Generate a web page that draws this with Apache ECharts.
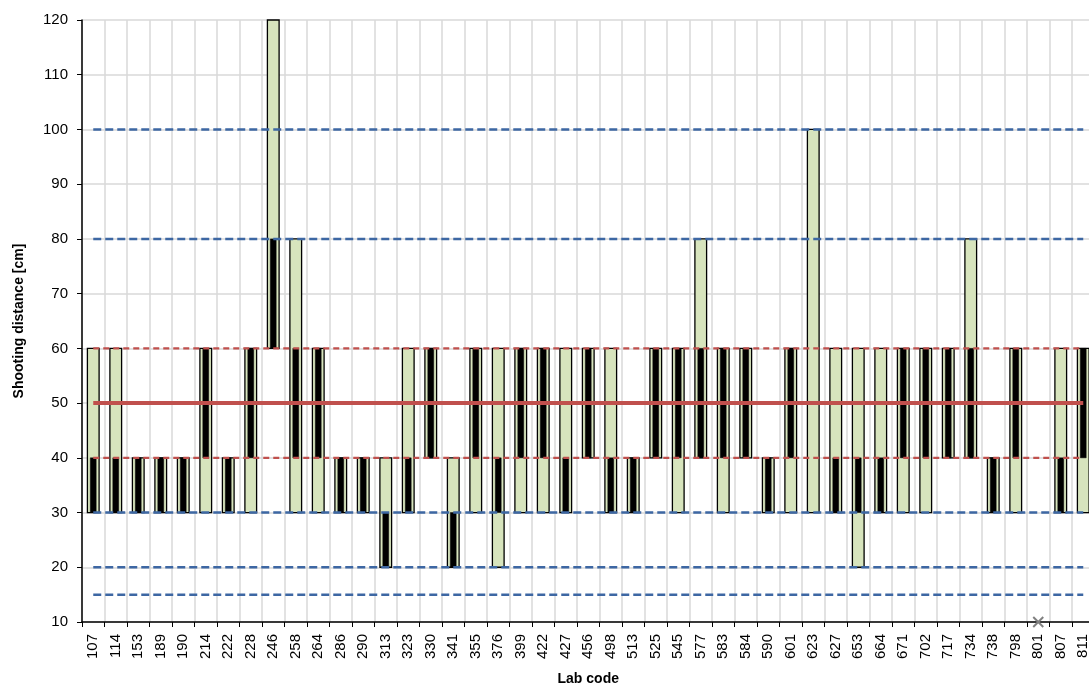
<!DOCTYPE html>
<html>
<head>
<meta charset="utf-8">
<script src="https://cdn.jsdelivr.net/npm/echarts@6/dist/echarts.min.js"></script>
<style>
html,body{margin:0;padding:0;background:#fff;overflow:hidden;}
#chart{width:1089px;height:690px;}
</style>
</head>
<body>
<div id="chart"></div>
<script>
const categories = ['107','114','153','189','190','214','222','228','246','258','264','286','290','313','323','330','341','355','376','399','422','427','456','498','513','525','545','577','583','584','590','601','623','627','653','664','671','702','717','734','738','798','801','807','811'];
const greenLow  = [30,30,30,30,30,30,30,30,60,30,30,30,30,20,30,40,20,30,20,30,30,30,40,30,30,40,30,40,30,40,30,30,30,30,20,30,30,30,40,40,30,30,null,30,30];
const greenHigh = [60,60,40,40,40,60,40,60,120,80,60,40,40,40,60,60,40,60,60,60,60,60,60,60,40,60,60,80,60,60,40,60,100,60,60,60,60,60,60,80,40,60,null,60,60];
const blackLow  = [30,30,30,30,30,40,30,40,60,40,40,30,30,20,30,40,20,40,30,40,40,30,40,30,30,40,40,40,40,40,30,40,null,30,30,30,40,40,40,40,30,40,null,30,40];
const blackHigh = [40,40,40,40,40,60,40,60,80,60,60,40,40,30,40,60,30,60,40,60,60,40,60,40,40,60,60,60,60,60,40,60,null,40,40,40,60,60,60,60,40,60,null,40,60];
const crossLab = '801';
const crossValue = 10;
const blueLevels = [15, 20, 30, 80, 100];
const redDashLevels = [40, 60];
const targetLevel = 50;
const yTicks = [10,20,30,40,50,60,70,80,90,100,110,120];

const font = 'Liberation Sans, Arial, sans-serif';

function rangeData(lo, hi) {
  const out = [];
  categories.forEach((c, i) => {
    if (lo[i] != null && hi[i] != null) out.push([i, lo[i], hi[i]]);
  });
  return out;
}

function boxRenderer(widthRatio, fill, stroke, lw) {
  return function (params, api) {
    const i = api.value(0);
    const top = api.coord([i, api.value(2)]);
    const bot = api.coord([i, api.value(1)]);
    const w = api.size([1, 0])[0] * widthRatio;
    const rect = echarts.graphic.clipRectByRect({
      x: top[0] - w / 2, y: top[1], width: w, height: bot[1] - top[1]
    }, {
      x: params.coordSys.x, y: params.coordSys.y - 1,
      width: params.coordSys.width, height: params.coordSys.height + 2
    });
    if (!rect) return;
    return {
      type: 'rect',
      shape: rect,
      style: { fill: fill, stroke: stroke, lineWidth: lw }
    };
  };
}

function levelSeries(v, color, width, dash, z) {
  return {
    type: 'line',
    data: [[categories[0], v], [categories[categories.length - 1], v]],
    symbol: 'none',
    silent: true,
    z: z,
    lineStyle: { color: color, width: width, type: dash }
  };
}

const series = [
  {
    type: 'custom',
    renderItem: boxRenderer(0.52, '#d7e4bd', '#000000', 1.3),
    data: rangeData(greenLow, greenHigh),
    encode: { x: 0, y: [1, 2] },
    z: 2
  },
  {
    type: 'custom',
    renderItem: boxRenderer(0.26, '#000000', '#000000', 0.5),
    data: rangeData(blackLow, blackHigh),
    encode: { x: 0, y: [1, 2] },
    z: 3
  },
  {
    type: 'custom',
    renderItem: function (params, api) {
      const p = api.coord([api.value(0), api.value(1)]);
      const s = 5;
      return {
        type: 'group',
        children: [
          { type: 'line', shape: { x1: p[0] - s, y1: p[1] - s, x2: p[0] + s, y2: p[1] + s }, style: { stroke: '#808080', lineWidth: 2 } },
          { type: 'line', shape: { x1: p[0] - s, y1: p[1] + s, x2: p[0] + s, y2: p[1] - s }, style: { stroke: '#808080', lineWidth: 2 } }
        ]
      };
    },
    data: [[categories.indexOf(crossLab), crossValue]],
    encode: { x: 0, y: 1 },
    clip: false,
    z: 10
  }
];
blueLevels.forEach(v => series.push(levelSeries(v, '#3d67a3', 2.5, [8, 4], 5)));
redDashLevels.forEach(v => series.push(levelSeries(v, '#c0504d', 2.2, [6, 4], 5)));
series.push(levelSeries(targetLevel, '#c0504d', 4, 'solid', 6));

const chart = echarts.init(document.getElementById('chart'), null, { renderer: 'canvas' });
chart.setOption({
  animation: false,
  backgroundColor: '#ffffff',
  grid: { left: 82, top: 20, width: 1012.5, height: 602, containLabel: false, outerBoundsMode: 'none' },
  xAxis: {
    type: 'category',
    data: categories,
    boundaryGap: true,
    name: 'Lab code',
    nameLocation: 'middle',
    nameGap: 50,
    nameTextStyle: { fontFamily: font, fontSize: 14, fontWeight: 'bold', color: '#000' },
    axisLine: { show: true, lineStyle: { color: '#000', width: 1.5 } },
    axisTick: { show: true, alignWithLabel: false, length: 5, lineStyle: { color: '#000' } },
    axisLabel: { rotate: 90, interval: 0, margin: 12, fontFamily: font, fontSize: 15, color: '#000' },
    splitLine: { show: true, lineStyle: { color: '#d9d9d9', width: 1.5 } }
  },
  yAxis: {
    type: 'value',
    min: yTicks[0],
    max: yTicks[yTicks.length - 1],
    interval: 10,
    name: 'Shooting distance [cm]',
    nameLocation: 'middle',
    nameGap: 56,
    nameTextStyle: { fontFamily: font, fontSize: 14, fontWeight: 'bold', color: '#000' },
    axisLine: { show: true, lineStyle: { color: '#000', width: 1.5 } },
    axisTick: { show: true, length: 5, lineStyle: { color: '#000' } },
    axisLabel: { margin: 14, fontFamily: font, fontSize: 15, color: '#000' },
    splitLine: { show: true, lineStyle: { color: '#d9d9d9', width: 1.5 } }
  },
  series: series
});
</script>
</body>
</html>
